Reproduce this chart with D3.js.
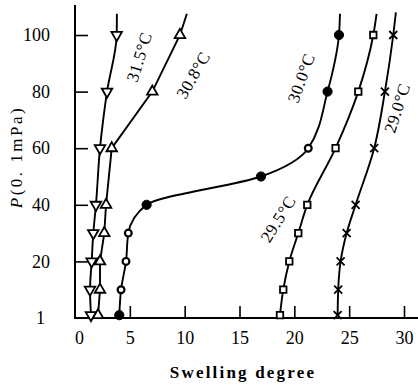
<!DOCTYPE html>
<html>
<head>
<meta charset="utf-8">
<script src="https://cdn.jsdelivr.net/npm/d3@7"></script>
<style>
  html, body { margin: 0; padding: 0; background: #fff; }
  svg { display: block; }
  text { font-family: "Liberation Serif", "Times New Roman", serif; fill: #000; }
</style>
</head>
<body>
<svg id="chart" width="418" height="389"></svg>
<script>
// ---- data ----
const pressures = [1, 10, 20, 30, 40, 60, 80, 100];
const pressures30 = [1, 10, 20, 30, 40, 50, 60, 80, 100];

const swell315 = [1.46, 1.37, 1.52, 1.67, 1.91, 2.28, 2.92, 3.80];
const swell308 = [2.10, 2.28, 2.28, 2.67, 2.83, 3.35, 7.05, 9.57];
const swell300 = [4.04, 4.20, 4.65, 4.86, 6.53, 16.96, 21.27, 23.03, 24.07];
const filled300 = [true, false, false, false, true, true, false, true, true];
const swell295 = [18.69, 18.99, 19.54, 20.36, 21.18, 23.76, 25.83, 27.20];
const swell290 = [23.95, 24.00, 24.22, 24.77, 25.59, 27.28, 28.26, 29.02];

// line continuation above the last measured point
const tailP = [107.5, 107.5, 107.5, 107.5, 108];
const tailSwell = [3.82, 10.2, 24.16, 27.5, 29.26];

const seriesNames = ["31.5°C", "30.8°C", "30.0°C", "29.5°C", "29.0°C"];
const markerTypes = ["down", "up", "circle", "square", "cross"];

const xTicks = [0, 5, 10, 15, 20, 25, 30];
const yTicks = [1, 20, 40, 60, 80, 100];

// ---- layout ----
const svg = d3.select("#chart");
const x = d3.scaleLinear().domain([0, 30]).range([75, 404]);
const y = d3.scaleLinear().domain([0, 100]).range([318, 35]);

const curves = [d3.curveMonotoneY, d3.curveLinear, d3.curveMonotoneY, d3.curveMonotoneY, d3.curveMonotoneY];

const series = [
  { p: pressures, s: swell315 },
  { p: pressures, s: swell308 },
  { p: pressures30, s: swell300, filled: filled300 },
  { p: pressures, s: swell295 },
  { p: pressures, s: swell290 }
].map((d, i) => ({
  name: seriesNames[i],
  marker: markerTypes[i],
  curve: curves[i],
  points: d.p.map((pv, j) => ({ p: pv, s: d.s[j], filled: d.filled ? d.filled[j] : false })),
  tail: { p: tailP[i], s: tailSwell[i] }
}));

// axes lines
const axisG = svg.append("g");
axisG.append("line").attr("x1", x(0)).attr("x2", x(0)).attr("y1", y(0)).attr("y2", 5)
  .attr("stroke", "#000").attr("stroke-width", 2);
axisG.append("line").attr("x1", x(0) - 1).attr("x2", 418).attr("y1", y(0)).attr("y2", y(0))
  .attr("stroke", "#000").attr("stroke-width", 2);

// x ticks (inward) and labels
const xAxis = d3.axisBottom(x).tickValues(xTicks).tickSizeInner(-12).tickSizeOuter(0).tickPadding(16)
  .tickFormat(d3.format("d"));
const gx = svg.append("g").attr("transform", `translate(0,${y(0)})`).call(xAxis);
gx.select(".domain").remove();
gx.selectAll(".tick line").attr("stroke", "#000").attr("stroke-width", 1.6)
  .attr("display", d => d === 0 ? "none" : null);
gx.selectAll(".tick text").attr("font-size", 18).attr("dy", "0.55em")
  .attr("font-family", "Liberation Serif, serif").attr("fill", "#000")
  .attr("dx", d => d === 0 ? 4 : 0);

// y ticks (inward) and labels
const yAxis = d3.axisLeft(y).tickValues(yTicks).tickSizeInner(-13).tickSizeOuter(0).tickPadding(25)
  .tickFormat(d3.format("d"));
const gy = svg.append("g").attr("transform", `translate(${x(0)},0)`).call(yAxis);
gy.select(".domain").remove();
gy.selectAll(".tick line").attr("stroke", "#000").attr("stroke-width", 1.6)
  .attr("display", d => d === 1 ? "none" : null);
gy.selectAll(".tick text").attr("font-size", 18)
  .attr("font-family", "Liberation Serif, serif").attr("fill", "#000")
  .attr("transform", d => d === 1 ? "translate(-5,3)" : null);

// axis titles
svg.append("text").attr("x", 243).attr("y", 378).attr("text-anchor", "middle")
  .attr("font-size", 17).attr("font-weight", "bold").attr("letter-spacing", "2.2px")
  .text("Swelling degree");

const yt = svg.append("text").attr("transform", "translate(22,157) rotate(-90)")
  .attr("text-anchor", "middle").attr("font-size", 17).attr("letter-spacing", "2.5px");
yt.append("tspan").attr("font-style", "italic").text("P");
yt.append("tspan").text("(0. 1mPa)");

// curves
const curveG = svg.append("g");
series.forEach(sr => {
  const line = d3.line().x(d => x(d.s)).y(d => y(d.p)).curve(sr.curve);
  curveG.append("path").datum(sr.points.concat([sr.tail]))
    .attr("d", line).attr("fill", "none").attr("stroke", "#000").attr("stroke-width", 1.9);
});

// markers
const markG = svg.append("g");
const tri = d3.symbol().type(d3.symbolTriangle).size(48)();
const sq = d3.symbol().type(d3.symbolSquare).size(42)();
series.forEach(sr => {
  const g = markG.selectAll(null).data(sr.points).enter().append("g")
    .attr("transform", d => `translate(${x(d.s)},${y(d.p)})`);
  if (sr.marker === "down") {
    g.append("path").attr("d", tri).attr("transform", "rotate(180)")
      .attr("fill", "#fff").attr("stroke", "#000").attr("stroke-width", 1.8);
  } else if (sr.marker === "up") {
    g.append("path").attr("d", tri)
      .attr("fill", "#fff").attr("stroke", "#000").attr("stroke-width", 1.8);
  } else if (sr.marker === "square") {
    g.append("path").attr("d", sq)
      .attr("fill", "#fff").attr("stroke", "#000").attr("stroke-width", 1.8);
  } else if (sr.marker === "circle") {
    g.append("circle").attr("r", d => d.filled ? 4.6 : 3.4)
      .attr("fill", d => d.filled ? "#000" : "#fff")
      .attr("stroke", "#000").attr("stroke-width", d => d.filled ? 1 : 2.2);
  } else if (sr.marker === "cross") {
    g.append("path").attr("d", "M-4,-4L4,4M-4,4L4,-4")
      .attr("stroke", "#000").attr("stroke-width", 1.8).attr("fill", "none");
  }
});

// series labels (rotated)
const labelPos = [
  { cx: 139, cy: 57, a: -73 },
  { cx: 193, cy: 75, a: -60 },
  { cx: 301, cy: 78, a: -70 },
  { cx: 278, cy: 219, a: -58 },
  { cx: 397, cy: 108, a: -72 }
];
series.forEach((sr, i) => {
  const lp = labelPos[i];
  svg.append("text").attr("transform", `translate(${lp.cx},${lp.cy}) rotate(${lp.a})`)
    .attr("text-anchor", "middle").attr("dy", "0.35em")
    .attr("font-size", 17).attr("letter-spacing", "0.5px")
    .text(sr.name);
});
</script>
</body>
</html>
